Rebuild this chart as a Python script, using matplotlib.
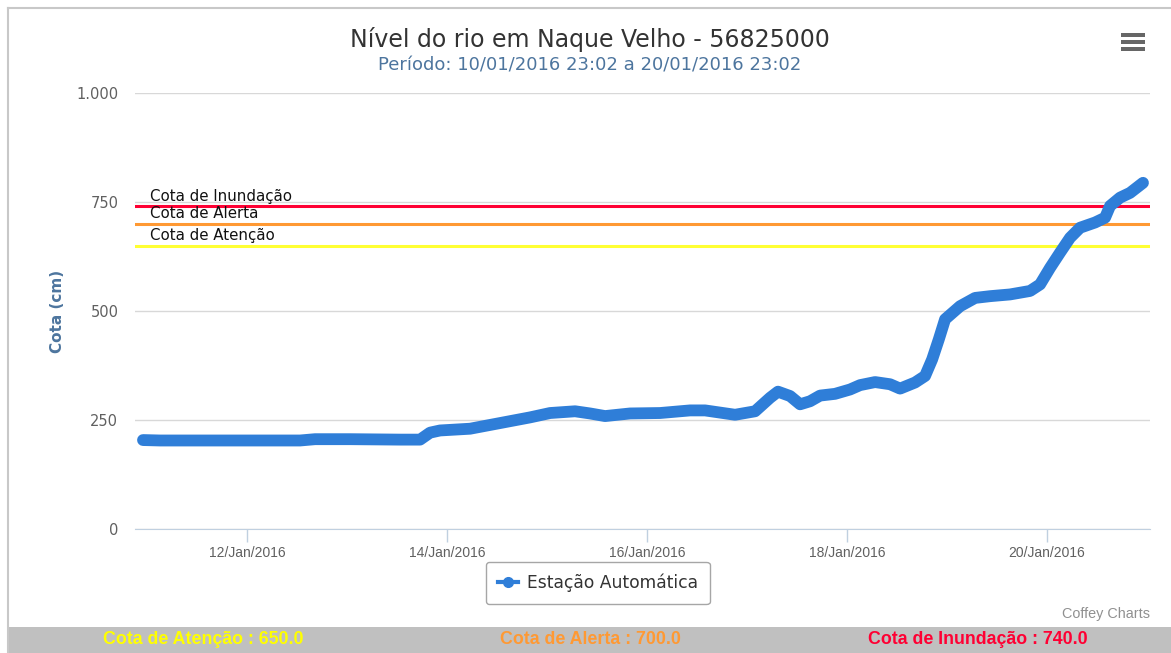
import numpy as np
import matplotlib
matplotlib.use('Agg')
import matplotlib.pyplot as plt
import matplotlib.dates as mdates
from matplotlib.lines import Line2D
from matplotlib.patches import Rectangle

# Dados (horas desde 10/01/2016 23:02, cota em cm)
horas = [0, 4.1, 13.7, 25.7, 37.7, 41.3, 49.7, 61.7, 66.5, 68.9, 71.3, 78.5,
         85.7, 92.9, 97.7, 103.7, 107.3, 110.9, 116.9, 124.1, 131.3, 134.9,
         138.5, 142.1, 146.9, 150.5, 152.4, 155.3, 157.7, 160.1, 162.5, 166.1,
         169.7, 172.1, 175.7, 179.3, 181.7, 185.3, 187.7, 189.4, 191.0, 192.5,
         196.1, 199.7, 203.3, 208.1, 212.9, 215.3, 217.7, 220.1, 222.5, 224.9,
         228.5, 230.9, 232.1, 234.5, 236.9, 240.0]
cota = [204, 203, 203, 203, 203, 206, 206, 205, 205, 221, 226, 230,
        243, 256, 266, 270, 265, 259, 265, 266, 272, 272,
        267, 262, 270, 301, 315, 305, 286, 293, 306, 310,
        320, 330, 337, 332, 322, 336, 351, 389, 435, 481,
        511, 530, 534, 538, 546, 561, 599, 634, 668, 691,
        703, 714, 741, 760, 771, 794]

inicio = np.datetime64('2016-01-10T23:02')
tempos = inicio + (np.array(horas) * 60).round().astype('timedelta64[m]')

cotas_ref = [740.0, 700.0, 650.0]
nomes_ref = ['Cota de Inundação', 'Cota de Alerta', 'Cota de Atenção']
cores_ref = ['#ff0033', '#ff9933', '#ffff33']

plt.rcParams['font.family'] = ['DejaVu Sans']

fig = plt.figure(figsize=(11.71, 6.53), dpi=100)
ax = fig.add_axes([135 / 1171, 1 - 529 / 653, (1150 - 135) / 1171, (529 - 93) / 653])

# linhas de referência
for valor, nome, cor in zip(cotas_ref, nomes_ref, cores_ref):
    ax.axhline(valor, color=cor, lw=2.2, zorder=2)

cor_serie = '#2f7ed8'
ax.plot(tempos, cota, color=cor_serie, lw=8.5, solid_capstyle='round',
        solid_joinstyle='round', zorder=3)

x0 = mdates.date2num(np.datetime64('2016-01-10T21:07'))
x1 = mdates.date2num(np.datetime64('2016-01-21T00:43'))
ax.set_xlim(x0, x1)
ax.set_ylim(0, 1000)

# rótulos das linhas de referência
trans = ax.get_yaxis_transform()
ax.text(0.015, 746, nomes_ref[0], transform=trans, fontsize=10.8, va='bottom', ha='left', color='#111111')
ax.text(0.015, 707, nomes_ref[1], transform=trans, fontsize=10.8, va='bottom', ha='left', color='#111111')
ax.text(0.015, 657, nomes_ref[2], transform=trans, fontsize=10.8, va='bottom', ha='left', color='#111111')

ax.set_yticks([0, 250, 500, 750, 1000])
ax.set_yticklabels(['0', '250', '500', '750', '1.000'])
ax.grid(axis='y', color='#d8d8d8', lw=1)
ax.set_axisbelow(True)

ax.xaxis.set_major_locator(mdates.DayLocator(bymonthday=[12, 14, 16, 18, 20]))
ax.xaxis.set_major_formatter(mdates.DateFormatter('%d/%b/%Y'))

for s in ['top', 'right', 'left']:
    ax.spines[s].set_visible(False)
ax.spines['bottom'].set_color('#c0d0e0')
ax.tick_params(axis='x', colors='#c0d0e0', length=9, width=1, labelcolor='#606060',
               labelsize=10, pad=3)
for lbl in ax.get_xticklabels():
    lbl.set_family('Liberation Sans')
ax.tick_params(axis='y', length=0, labelcolor='#606060', labelsize=10.5, pad=12)

ax.set_ylabel('Cota (cm)', color='#4d759e', fontsize=11, fontweight='bold', labelpad=8)

# título e subtítulo
fig.text(590 / 1171, 1 - 40 / 653, 'Nível do rio em Naque Velho - 56825000',
         ha='center', va='center', fontsize=17, color='#333333')
fig.text(590 / 1171, 1 - 65 / 653, 'Período: 10/01/2016 23:02 a 20/01/2016 23:02',
         ha='center', va='center', fontsize=13, color='#4d759e')

# legenda
marca = Line2D([], [], color=cor_serie, lw=3, marker='o', markersize=7)
leg = ax.legend([marca], ['Estação Automática'], loc='upper center',
                bbox_to_anchor=(0.456, -0.055), frameon=True,
                fontsize=12.3, handlelength=1.2, numpoints=1, borderpad=0.7,
                handletextpad=0.5, fancybox=True)
leg.get_frame().set_edgecolor('#909090')
leg.get_frame().set_linewidth(1)
for t in leg.get_texts():
    t.set_color('#333333')

fig.text(1150 / 1171, 1 - 614 / 653, 'Coffey Charts', ha='right', va='center',
         fontsize=10.4, color='#909090', family='Liberation Sans')

# moldura e barra inferior
fig.add_artist(Line2D([8 / 1171, 8 / 1171], [0, 1 - 8 / 653], color='#c8c8c8', lw=1.5))
fig.add_artist(Line2D([8 / 1171, 1], [1 - 8 / 653, 1 - 8 / 653], color='#c8c8c8', lw=1.5))
fig.add_artist(Rectangle((8 / 1171, 0), 1, 26 / 653, transform=fig.transFigure,
                         facecolor='#c0c0c0', edgecolor='none'))
rodape = ['Cota de Atenção : 650.0', 'Cota de Alerta : 700.0', 'Cota de Inundação : 740.0']
rodape_x = [203, 590, 978]
rodape_cor = ['#ffff00', '#ff9933', '#ff0033']
for txt, px, cor in zip(rodape, rodape_x, rodape_cor):
    fig.text(px / 1171, 1 - 640 / 653, txt, ha='center', va='center', fontsize=12.8,
             fontweight='bold', color=cor, family='Liberation Sans')

# ícone de menu
for dy in [35, 42, 49]:
    fig.add_artist(Rectangle((1121 / 1171, 1 - (dy + 2) / 653), 24 / 1171, 4 / 653,
                             transform=fig.transFigure, facecolor='#666666', edgecolor='none'))

fig.savefig('out.png', dpi=100)
